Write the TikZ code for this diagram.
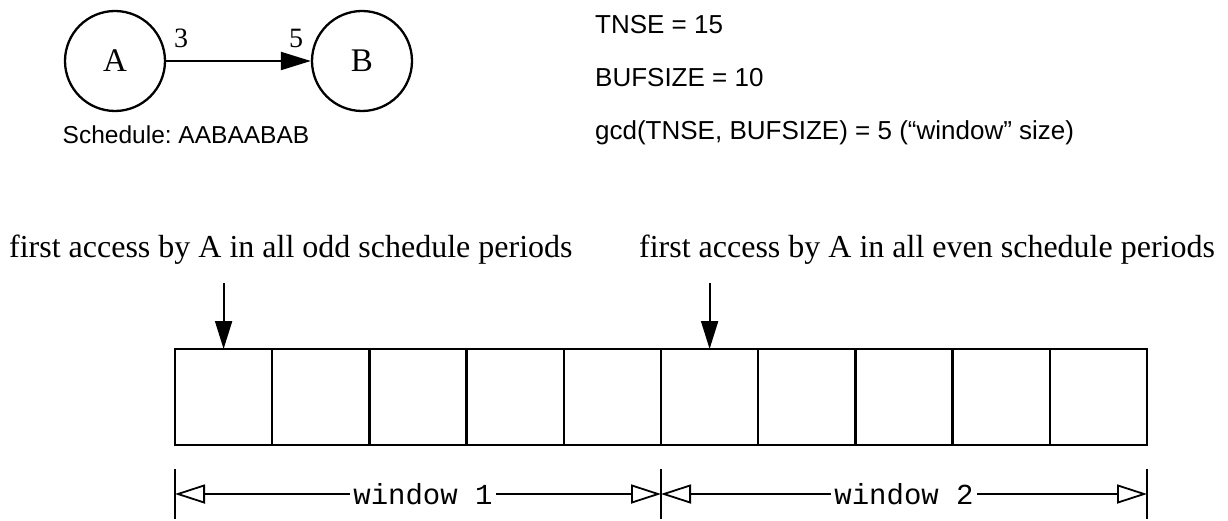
\documentclass[tikz,border=0pt]{standalone}
\usepackage{fontspec}
\setmainfont{Liberation Serif}
\setsansfont{Liberation Sans}
\setmonofont{Liberation Mono}
\usetikzlibrary{arrows.meta}
\begin{document}
\frenchspacing
\begin{tikzpicture}[x=1pt,y=-1pt,line width=2.3pt,
  vert/.style={circle,draw,minimum size=100pt,inner sep=0pt,font=\fontsize{33}{36}\selectfont},
  numlabel/.style={inner sep=0pt,font=\fontsize{28}{32}\selectfont},
  sanslabel/.style={font=\sffamily\fontsize{26}{30}\selectfont,anchor=base west,inner sep=0pt},
  serlabel/.style={font=\fontsize{32}{36}\selectfont,anchor=base west,inner sep=0pt},
  cell/.style={draw,minimum width=97.2pt,minimum height=96pt,inner sep=0pt,outer sep=0pt,anchor=north west},
  fillarrow/.style={line width=2pt,-{Triangle[length=30pt,width=18pt]}},
  downarrow/.style={line width=2pt,-{Triangle[length=28pt,width=17pt]}},
  dimline/.style={line width=1.6pt,{Triangle[open,length=30pt,width=19pt,line width=1.8pt]}-{Triangle[open,length=30pt,width=19pt,line width=1.8pt]}},
  dimlabel/.style={fill=white,inner xsep=3pt,inner ysep=0pt,font=\ttfamily\fontsize{29}{32}\selectfont},
  tick/.style={line width=2pt}]
\useasboundingbox (0,0) rectangle (1228,521);
% graph
\node[vert] (A) at (115,61) {A};
\node[vert] (B) at (362,61) {B};
\draw[fillarrow] (A) -- (B);
\node[numlabel] (n3) at (181,38) {3};
\node[numlabel] (n5) at (296,38) {5};
\node[sanslabel,font=\sffamily\fontsize{24.5}{30}\selectfont,anchor=base] (sched) at (186,144) {Schedule: AABAABAB};
% parameters
\node[sanslabel] (tnse) at (594,34) {TNSE = 15};
\node[sanslabel] (buf) at (594,87) {BUFSIZE = 10};
\node[sanslabel] (gcd) at (594,140) {gcd(TNSE, BUFSIZE) = 5 (“window” size)};
% annotations
\node[serlabel] (odd) at (8,258) {first access by A in all odd schedule periods};
\node[serlabel] (even) at (638,258) {first access by A in all even schedule periods};
% buffer cells
\foreach \i in {0,...,9} {
  \node[cell] (c\i) at (175+97.2*\i,349) {};
}
\draw[downarrow] (c0.north) ++(0,-66) -- (c0.north);
\draw[downarrow] (c5.north) ++(0,-66) -- (c5.north);
% windows
\coordinate (w0) at (175,494);
\coordinate (w1) at (661,494);
\coordinate (w2) at (1147,494);
\foreach \w in {w0,w1,w2} {
  \draw[tick] (\w) ++(0,-25) -- ++(0,50);
}
\draw[dimline] (w0) -- node[dimlabel,xshift=5pt] (lab1) {window 1} (w1);
\draw[dimline] (w1) -- node[dimlabel] (lab2) {window 2} (w2);
\end{tikzpicture}
\end{document}
